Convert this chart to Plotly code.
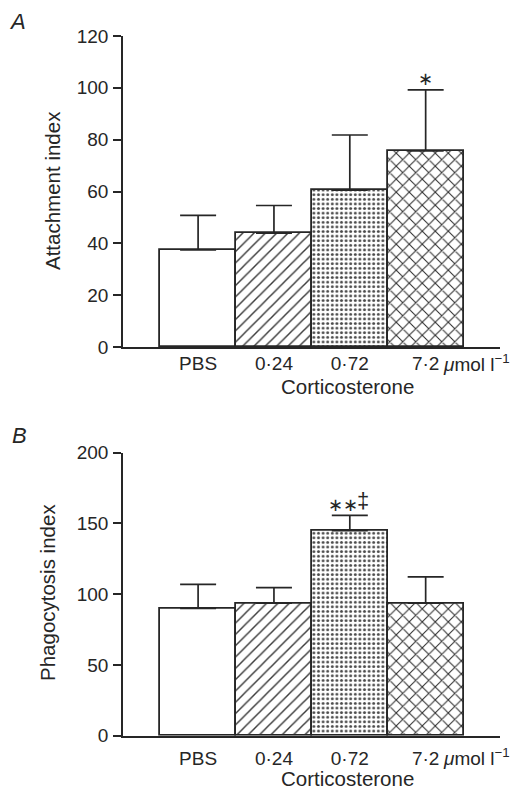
import plotly.graph_objects as go

categories = ["PBS", "0·24", "0·72", "7·2"]
unit_label = "<i>μ</i>mol l<sup>−1</sup>"
attach_mean = [37.5, 43.9, 60.5, 75.7]
attach_err = [13.3, 10.7, 21.3, 23.5]
phago_mean = [90.0, 93.6, 144.9, 93.6]
phago_err = [17.0, 11.0, 10.8, 18.6]
attach_ticks = [0, 20, 40, 60, 80, 100, 120]
phago_ticks = [0, 50, 100, 150, 200]

INK = "#262626"
FONT = "Liberation Sans, Arial, Helvetica, sans-serif"
xpos = list(range(len(categories)))

pattern = dict(
    shape=["", "/", ".", "x"],
    size=[8, 8, 4.6, 9.2],
    solidity=[0.2, 0.18, 0.32, 0.22],
    fgcolor=[INK, "#3a3a3a", "#4a4a4a", "#2e2e2e"],
    bgcolor="white",
    fillmode="replace",
)


def bar(mean, err, xa, ya):
    return go.Bar(
        x=xpos, y=mean, width=1, xaxis=xa, yaxis=ya,
        marker=dict(color="white", line=dict(color=INK, width=1.8), pattern=pattern),
        error_y=dict(type="data", symmetric=False, array=err, arrayminus=[0] * len(err),
                     width=18, thickness=1.7, color=INK),
        showlegend=False, hoverinfo="skip",
    )


fig = go.Figure()
fig.add_trace(bar(attach_mean, attach_err, "x", "y"))
fig.add_trace(bar(phago_mean, phago_err, "x2", "y2"))

xcommon = dict(range=[-0.99, 3.98], showline=True, linecolor=INK, linewidth=1.7,
               ticks="", tickvals=xpos, ticktext=categories, showgrid=False, zeroline=False,
               automargin=False,
               tickfont=dict(family=FONT, size=19, color=INK), domain=[123 / 516, 500 / 516])
ycommon = dict(showline=True, linecolor=INK, linewidth=1.7, ticks="outside", ticklen=8,
               tickwidth=1.7, tickcolor=INK, showgrid=False, zeroline=False, automargin=False,
               tickfont=dict(family=FONT, size=19, color=INK), ticklabelstandoff=1)

fig.update_layout(
    template="none",
    width=516, height=789,
    margin=dict(l=0, r=0, t=0, b=0, pad=0),
    paper_bgcolor="white", plot_bgcolor="white",
    bargap=0,
    xaxis=dict(xcommon, anchor="y", ticklabelstandoff=-2),
    yaxis=dict(ycommon, range=[0, 120], tickvals=attach_ticks,
               domain=[1 - 347 / 789, 1 - 36 / 789], anchor="x"),
    xaxis2=dict(xcommon, anchor="y2", ticklabelstandoff=5),
    yaxis2=dict(ycommon, range=[0, 200], tickvals=phago_ticks,
                domain=[1 - 735.7 / 789, 1 - 452.7 / 789], anchor="x2"),
)

ann = []
for xr, yr, shift_unit, shift_title in [("x", "y", -16, -40), ("x2", "y2", -21, -43)]:
    ann.append(dict(x=3, y=0, xref=xr, yref=yr, text=unit_label, showarrow=False,
                    xanchor="left", yanchor="middle", xshift=15, yshift=shift_unit,
                    font=dict(family=FONT, size=19, color=INK)))
    ann.append(dict(x=1.97, y=0, xref=xr, yref=yr, text="Corticosterone", showarrow=False,
                    xanchor="center", yanchor="middle", yshift=shift_title,
                    font=dict(family=FONT, size=20.5, color=INK)))

common_paper = dict(xref="paper", yref="paper", showarrow=False, xanchor="center", yanchor="middle")
ann.append(dict(common_paper, x=52 / 516, y=1 - 191 / 789, text="Attachment index",
                textangle=-90, font=dict(family=FONT, size=20.5, color=INK)))
ann.append(dict(common_paper, x=47 / 516, y=1 - 593 / 789, text="Phagocytosis index",
                textangle=-90, font=dict(family=FONT, size=20.5, color=INK)))
ann.append(dict(common_paper, x=17 / 516, y=1 - 21 / 789, text="<i>A</i>",
                font=dict(family=FONT, size=22, color=INK)))
ann.append(dict(common_paper, x=19 / 516, y=1 - 435 / 789, text="<i>B</i>",
                font=dict(family=FONT, size=22, color=INK)))

ann.append(dict(x=3, y=attach_mean[3] + attach_err[3], xref="x", yref="y", text="∗",
                showarrow=False, xanchor="center", yanchor="bottom", yshift=-1,
                font=dict(family=FONT, size=18, color=INK)))
ann.append(dict(x=2, y=phago_mean[2] + phago_err[2], xref="x2", yref="y2", text="∗∗",
                showarrow=False, xanchor="center", yanchor="bottom", xshift=-7, yshift=-2,
                font=dict(family=FONT, size=18, color=INK)))
ann.append(dict(x=2, y=phago_mean[2] + phago_err[2], xref="x2", yref="y2", text="‡",
                showarrow=False, xanchor="center", yanchor="bottom", xshift=13, yshift=0,
                font=dict(family=FONT, size=22, color=INK)))

fig.update_layout(annotations=ann)
fig.write_html("out.html", config={"displayModeBar": False},
               post_script="document.body.style.margin='0';")
